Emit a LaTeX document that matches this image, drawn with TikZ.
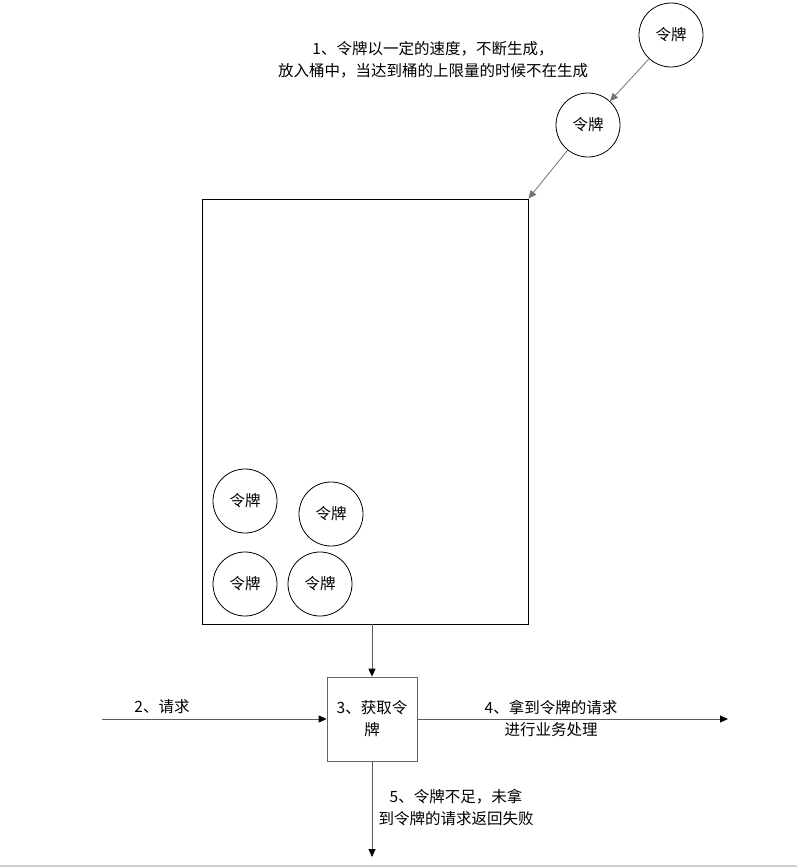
\documentclass[tikz,border=0pt]{standalone}
\usepackage{fontspec}
\setmainfont{Noto Sans CJK SC}
\usetikzlibrary{arrows.meta}

\begin{document}
\begin{tikzpicture}[x=1pt,y=-1pt,
                        token/.style={circle,draw,line width=0.8,minimum size=64,inner sep=0,font=\fontsize{15.5}{22}\selectfont},
                        bucket/.style={draw,line width=0.9,minimum width=326,minimum height=425,inner sep=0},
                        getbox/.style={draw=black!60,line width=0.8,minimum width=90,minimum height=84,inner sep=0,align=center,font=\fontsize{15.5}{22}\selectfont},
                        label/.style={align=center,inner sep=0,font=\fontsize{15.5}{22}\selectfont},
                        feed/.style={draw=black!55,line width=0.8,-{Triangle[length=8,width=7]}},
                        flow/.style={draw=black!65,line width=0.9,-{Triangle[length=8,width=7,fill=black,color=black]}}
                        ]
                        \useasboundingbox (0,0) rectangle (797,867);
                        \def\W{797} % page width
                        \def\B{866} % bottom rule

                        % tokens coming into the bucket
                        \node[token] (tokA) at (671,35) {令牌};
                        \node[token] (tokB) at (588,125) {令牌};
                        \node[label] (genlabel) at (433,60) {1、令牌以一定的速度，不断生成，\\放入桶中，当达到桶的上限量的时候不在生成};

                        % the bucket and the tokens in it
                        \node[bucket] (bucket) at (365,411.5) {};
                        \foreach \n/\x/\y in {1/245/501, 2/331/514, 3/245/584, 4/320/584} {
                            \node[token] (tok\n) at (\x,\y) {令牌};
                        }

                        % taking a token
                        \node[getbox] (get) at (372,719) {3、获取令\\牌};
                        \coordinate (reqin) at (102,719);
                        \coordinate (pass) at (728,719);
                        \coordinate (fail) at (372,857);
                        \node[label] (reqlabel) at (162,707) {2、请求};
                        \node[label] (passlabel) at (551,718) {4、拿到令牌的请求\\进行业务处理};
                        \node[label] (faillabel) at (456,807) {5、令牌不足，未拿\\到令牌的请求返回失败};

                        \draw[feed] (tokA) -- (tokB);
                        \draw[feed] (tokB) -- (bucket.north east);
                        \draw[flow] (bucket.south -| get.north) -- (get.north);
                        \draw[flow] (reqin) -- (get.west);
                        \draw[flow] (get.east) -- (pass);
                        \draw[flow] (get.south) -- (fail);

                        \draw[black!18,line width=1.5] (0,\B) -- (\W,\B);
                    \end{tikzpicture}
\end{document}
